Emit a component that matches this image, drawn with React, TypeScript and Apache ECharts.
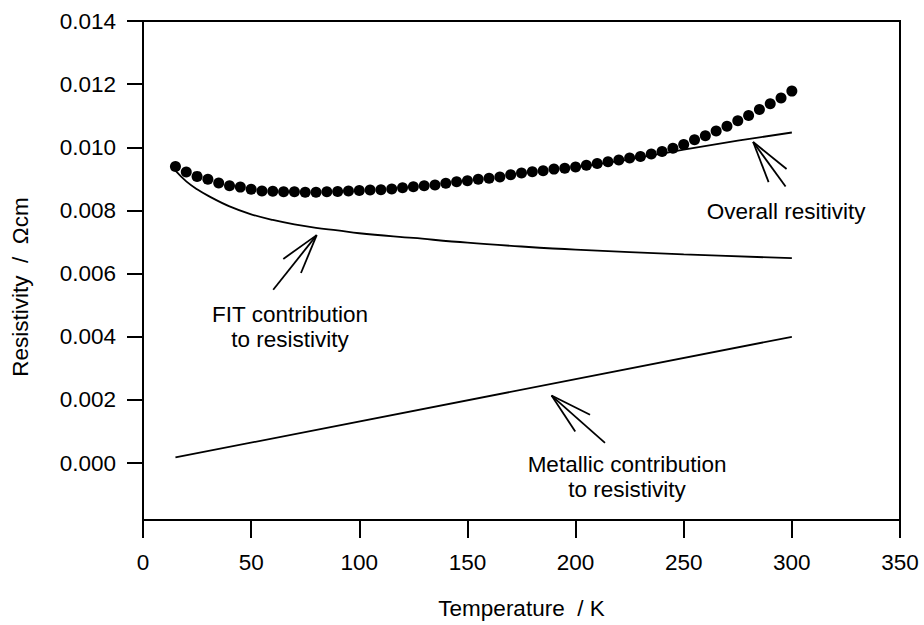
import React, { useEffect, useRef } from "react";
import * as echarts from "echarts";

const FONT = '"Liberation Sans", Arial, Helvetica, sans-serif';
const FS = 22.5;

// Measured overall resistivity (dots)
const measuredT = [
  15, 20, 25, 30, 35, 40, 45, 50, 55, 60, 65, 70, 75, 80, 85, 90, 95, 100, 105, 110,
  115, 120, 125, 130, 135, 140, 145, 150, 155, 160, 165, 170, 175, 180, 185, 190, 195, 200,
  205, 210, 215, 220, 225, 230, 235, 240, 245, 250, 255, 260, 265, 270, 275, 280, 285, 290,
  295, 300,
];
const measuredRho = [
  0.00939, 0.00922, 0.00908, 0.00899, 0.00887, 0.00878, 0.00874, 0.00867, 0.00862, 0.00861,
  0.00859, 0.00859, 0.00858, 0.00858, 0.00859, 0.0086, 0.00862, 0.00863, 0.00865, 0.00866,
  0.00868, 0.00872, 0.00875, 0.00878, 0.00881, 0.00886, 0.00891, 0.00894, 0.00899, 0.00902,
  0.00906, 0.00913, 0.00919, 0.00923, 0.00926, 0.00931, 0.00934, 0.00938, 0.00943, 0.00949,
  0.00954, 0.0096, 0.00966, 0.00971, 0.00979, 0.00987, 0.00997, 0.01009, 0.01024, 0.01037,
  0.01052, 0.01067, 0.01084, 0.01101, 0.0112, 0.01138, 0.01156, 0.01178,
];

// FIT contribution curve
const fitT = [15, 20, 25, 30, 40, 50, 60, 70, 80, 90, 100, 125, 150, 175, 200, 250, 300];
const fitRho = [
  0.00926, 0.00892, 0.00867, 0.00847, 0.00813, 0.00788, 0.0077, 0.00756, 0.00745, 0.00737,
  0.00728, 0.00713, 0.00698, 0.00686, 0.00676, 0.00661, 0.00649,
];

// Metallic contribution line
const metT = [15, 300];
const metRho = [0.00018, 0.004];

// Overall fitted resistivity (visible part of the sum line)
const overallT = [200, 225, 250, 275, 300];
const overallRho = [0.00937, 0.00962, 0.00993, 0.01021, 0.01047];

const yTicks = [0, 0.002, 0.004, 0.006, 0.008, 0.01, 0.012, 0.014];

// Annotation anchors in data coordinates
const arrows = [
  { tip: [80.3, 0.00722], tail: [60.2, 0.00549], barb: 41, angle: 16 },
  { tip: [282.1, 0.01017], tail: [297.1, 0.00876], barb: 43, angle: 15 },
  { tip: [188.9, 0.00214], tail: [213.6, 0.00064], barb: 43, angle: 15 },
];
const notes = [
  { at: [68, 0.00432], text: "FIT contribution\nto resistivity" },
  { at: [297.3, 0.00798], text: "Overall resitivity" },
  { at: [223.8, -0.00045], text: "Metallic contribution\nto resistivity" },
];

const zip = (xs: number[], ys: number[]) => xs.map((x, i) => [x, ys[i]]);

export default function App() {
  const ref = useRef<HTMLDivElement>(null);
  useEffect(() => {
    if (!ref.current) return;
    const chart = echarts.init(ref.current, null, { renderer: "svg" });
    const lineStyle = { color: "#000", width: 1.8 };
    chart.setOption({
      animation: false,
      backgroundColor: "#fff",
      textStyle: { fontFamily: FONT },
      grid: {
        left: 143,
        right: 24,
        top: 21,
        bottom: 105,
        show: true,
        borderColor: "#000",
        borderWidth: 2,
        backgroundColor: "transparent",
      },
      xAxis: {
        type: "value",
        min: 0,
        max: 350,
        interval: 50,
        name: "Temperature  / K",
        nameLocation: "middle",
        nameGap: 77,
        nameTextStyle: { fontSize: FS, color: "#000", fontFamily: FONT },
        axisLine: { show: true, onZero: false, lineStyle: { color: "#000", width: 2 } },
        axisTick: { show: true, length: 18, inside: false, lineStyle: { color: "#000", width: 2 } },
        axisLabel: { fontSize: FS, color: "#000", margin: 31, fontFamily: FONT },
        splitLine: { show: false },
      },
      yAxis: {
        type: "value",
        min: -0.0018,
        max: 0.014,
        axisLine: { show: true, onZero: false, lineStyle: { color: "#000", width: 2 } },
        axisTick: {
          show: true,
          length: 16,
          inside: false,
          customValues: yTicks,
          lineStyle: { color: "#000", width: 2 },
        },
        axisLabel: {
          fontSize: FS,
          color: "#000",
          margin: 27,
          fontFamily: FONT,
          customValues: yTicks,
          formatter: (v: number) => v.toFixed(3),
        },
        splitLine: { show: false },
      },
      series: [
        {
          type: "line",
          data: zip(fitT, fitRho),
          smooth: 0.4,
          showSymbol: false,
          lineStyle,
          z: 2,
        },
        {
          type: "line",
          data: zip(metT, metRho),
          showSymbol: false,
          lineStyle,
          z: 2,
        },
        {
          type: "line",
          data: zip(overallT, overallRho),
          smooth: 0.3,
          showSymbol: false,
          lineStyle,
          z: 2,
        },
        {
          type: "scatter",
          data: zip(measuredT, measuredRho),
          symbol: "circle",
          symbolSize: 11,
          itemStyle: { color: "#000", opacity: 1 },
          z: 3,
        },
      ],
    });

    const px = (p: number[]) => chart.convertToPixel({ gridIndex: 0 }, p) as number[];
    const graphic: any[] = [];
    const ls = { stroke: "#000", lineWidth: 1.8 };
    arrows.forEach((a) => {
      const t = px(a.tip);
      const e = px(a.tail);
      const dx = e[0] - t[0];
      const dy = e[1] - t[1];
      const len = Math.hypot(dx, dy);
      const ux = dx / len;
      const uy = dy / len;
      graphic.push({ type: "line", shape: { x1: t[0], y1: t[1], x2: e[0], y2: e[1] }, style: ls });
      [1, -1].forEach((s) => {
        const ang = (s * a.angle * Math.PI) / 180;
        const bx = ux * Math.cos(ang) - uy * Math.sin(ang);
        const by = ux * Math.sin(ang) + uy * Math.cos(ang);
        graphic.push({
          type: "line",
          shape: { x1: t[0], y1: t[1], x2: t[0] + bx * a.barb, y2: t[1] + by * a.barb },
          style: ls,
        });
      });
    });
    notes.forEach((n) => {
      const p = px(n.at);
      graphic.push({
        type: "text",
        x: p[0],
        y: p[1],
        style: {
          text: n.text,
          fontSize: FS,
          fontFamily: FONT,
          fill: "#000",
          align: "center",
          verticalAlign: "middle",
          lineHeight: 25,
        },
      });
    });
    graphic.push({
      type: "text",
      x: 20,
      y: 287,
      rotation: Math.PI / 2,
      style: {
        text: "Resistivity  /  Ωcm",
        fontSize: FS,
        fontFamily: FONT,
        fill: "#000",
        align: "center",
        verticalAlign: "middle",
      },
    });
    chart.setOption({ graphic });

    return () => chart.dispose();
  }, []);

  return (
    <div
      ref={ref}
      style={{ position: "fixed", left: 0, top: 0, width: 924, height: 625, background: "#fff" }}
    />
  );
}
